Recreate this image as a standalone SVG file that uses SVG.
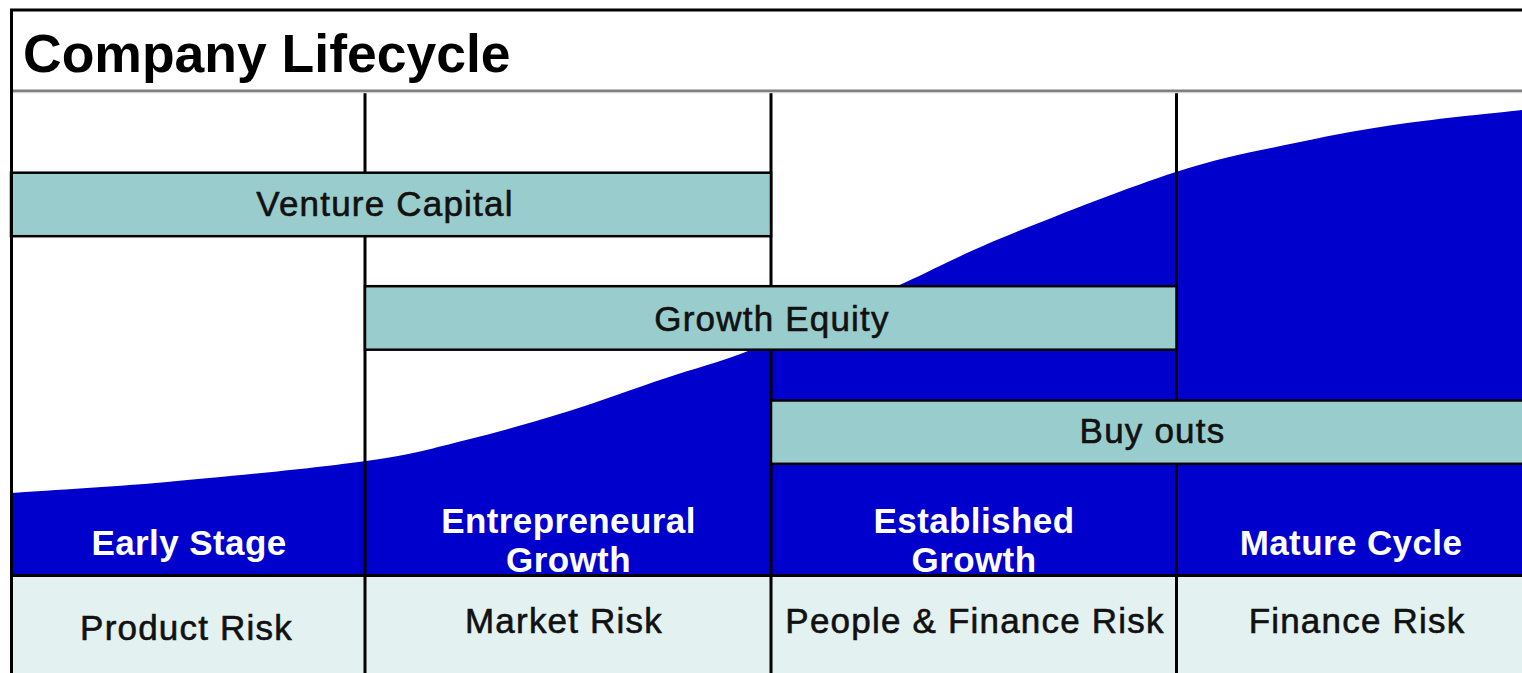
<svg xmlns="http://www.w3.org/2000/svg" width="1522" height="673" viewBox="0 0 1522 673">
<style>
.line{stroke:#000;stroke-width:3;fill:none}
.bar{fill:#99CCCC;stroke:#000;stroke-width:2.5}
.bartxt{font-family:"Liberation Sans",Arial,sans-serif;font-size:35px;letter-spacing:1.2px;fill:#111;stroke:#111;stroke-width:0.6px;text-anchor:middle}
.stage{font-family:"Liberation Sans",Arial,sans-serif;font-size:35px;font-weight:bold;letter-spacing:0.4px;fill:#fff;text-anchor:middle}
.risk{font-family:"Liberation Sans",Arial,sans-serif;font-size:35px;letter-spacing:1.2px;fill:#111;stroke:#111;stroke-width:0.6px;text-anchor:middle}
</style>
<rect x="0" y="0" width="1522" height="673" fill="#fff"/>
<path id="curve" fill="#0000CC" d="M10,493 C36.2,491.2 107.7,487.3 167,482 C226.3,476.7 316.2,468 366,461 C415.8,454 432.7,448.2 466,440 C499.3,431.8 532.7,422.3 566,412 C599.3,401.7 636.5,387.8 666,378 C695.5,368.2 716.7,363 743,353 C769.3,343 797.2,329.7 824,318 C850.8,306.3 874,296.5 904,283 C934,269.5 958.7,255.5 1004,237 C1049.3,218.5 1126.7,187.8 1176,172 C1225.3,156.2 1262.7,150 1300,142 C1337.3,134 1363,129.3 1400,124 C1437,118.7 1501.7,112.3 1522,110 L1530,110 L1530,576 L10,576 Z"/>
<g id="stages">
<g id="stage-early"><text class="stage" x="189" y="555">Early Stage</text></g>
<g id="stage-entrepreneural"><text class="stage" x="568.5" y="533">Entrepreneural</text><text class="stage" x="568.5" y="572">Growth</text></g>
<g id="stage-established"><text class="stage" x="974" y="533">Established</text><text class="stage" x="974" y="572">Growth</text></g>
<g id="stage-mature"><text class="stage" x="1351" y="555">Mature Cycle</text></g>
</g>
<rect x="10" y="576" width="1520" height="100" fill="#E3F1F1"/>
<g id="grid">
<line class="line" x1="365" y1="92" x2="365" y2="673"/>
<line class="line" x1="771" y1="92" x2="771" y2="673"/>
<line class="line" x1="1176.5" y1="92" x2="1176.5" y2="673"/>
<line class="line" x1="10" y1="575.5" x2="1530" y2="575.5"/>
</g>
<g id="venture-capital"><rect class="bar" x="11" y="172.7" width="760" height="63.5"/><text class="bartxt" x="385" y="216">Venture Capital</text></g>
<g id="growth-equity"><rect class="bar" x="365" y="286.2" width="811.5" height="63.5"/><text class="bartxt" x="772" y="331">Growth Equity</text></g>
<g id="buy-outs"><rect class="bar" x="771" y="400.5" width="770" height="63.3"/><text class="bartxt" x="1152.5" y="443">Buy outs</text></g>
<g id="risks">
<g id="risk-product"><text class="risk" x="186.5" y="640">Product Risk</text></g>
<g id="risk-market"><text class="risk" x="564" y="633">Market Risk</text></g>
<g id="risk-people"><text class="risk" x="975" y="633">People &amp; Finance Risk</text></g>
<g id="risk-finance"><text class="risk" x="1357" y="633">Finance Risk</text></g>
</g>
<g id="connectors"></g>
<g id="header">
<line x1="11" y1="90.8" x2="1522" y2="90.8" stroke="#808080" stroke-width="2.5"/>
<line x1="11" y1="92.6" x2="1522" y2="92.6" stroke="#D4D4D4" stroke-width="1.2"/>
<text x="23" y="72" font-family="'Liberation Sans',Arial,sans-serif" font-size="53.5" font-weight="bold" fill="#000">Company Lifecycle</text>
</g>
<g id="frame">
<line class="line" x1="10" y1="10" x2="1522" y2="10"/>
<line class="line" x1="11.5" y1="9" x2="11.5" y2="673"/>
</g>
</svg>
